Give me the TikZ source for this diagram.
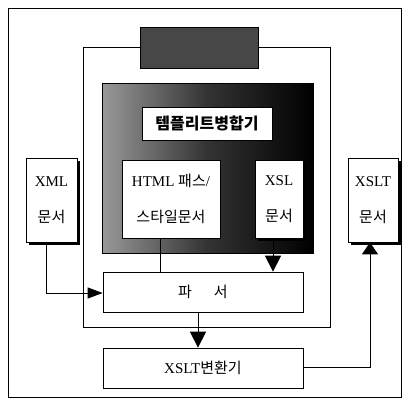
\documentclass[tikz,border=0pt]{standalone}
\usepackage{fontspec}
\setmainfont{Liberation Serif}
\newfontfamily\kr{Noto Sans CJK KR}
\usetikzlibrary{arrows.meta}
\begin{document}
\begin{tikzpicture}[x=1pt,y=-1pt,
  wbox/.style={draw=black, fill=white, line width=0.7pt, inner sep=0pt},
  conn/.style={draw=black, line width=0.8pt},
  tip/.style={-{Triangle[length=15pt,width=11pt]}},
  bigtip/.style={-{Triangle[length=16pt,width=16pt]}},
  frame/.style={draw=black, line width=0.6pt},
  twol/.style={align=center, font=\fontsize{15}{36}\selectfont}]
\useasboundingbox (0,0) rectangle (403,405);
% outer frame
\draw[frame] (8,8) rectangle (401,397);
% middle frame
\draw[frame] (83,47) rectangle (330,327);
% top dark box
\node[fill=black!72, draw=black, minimum width=118pt, minimum height=41pt, inner sep=0pt] (eng) at (199,47.5) {};
% inner template panel
\shade[left color=black!40, right color=black, middle color=black!80, shading angle=90] (102,83) rectangle (313,253);
\node[draw=black, line width=0.6pt, minimum width=211pt, minimum height=170pt, inner sep=0pt] (panel) at (207.5,168) {};
% template merger
\node[wbox, minimum width=130pt, minimum height=33pt, font=\kr\bfseries\fontsize{16}{18}\selectfont] (tm) at (207,123.5) {템플리트병합기};
% HTML style doc
\node[wbox, twol, minimum width=98pt, minimum height=78pt] (html) at (171,199)
  {HTML {\kr 패스}/\\{\kr 스타일문서}};
% XSL doc
\fill[black] (258,163) rectangle (306,241);
\node[wbox, twol, minimum width=48pt, minimum height=78pt] (xsl) at (279,199)
  {XSL\\{\kr 문서}};
% XML doc
\fill[black] (29,161) rectangle (80,245);
\node[wbox, twol, minimum width=51pt, minimum height=84pt] (xml) at (51.5,200)
  {XML\\{\kr 문서}};
% XSLT doc
\fill[black] (351,161) rectangle (401,245);
\node[wbox, twol, minimum width=50pt, minimum height=84pt] (xslt) at (373,200)
  {XSLT\\{\kr 문서}};
% parser
\node[wbox, minimum width=200pt, minimum height=40pt, font=\kr\fontsize{15}{18}\selectfont] (parser) at (203,292)
  {파\hspace{22pt}서};
% XSLT transformer
\node[wbox, minimum width=200pt, minimum height=40pt, font=\fontsize{15}{18}\selectfont] (trans) at (203,368)
  {XSLT{\kr 변환기}};
% connectors
\coordinate (c1) at (46,293);
\draw[conn, tip] (xml.south -| c1) -- (c1) -- (parser.west |- c1);
\coordinate (c2) at (160,0);
\draw[conn] (html.south -| c2) -- (parser.north -| c2);
\coordinate (c3) at (273,0);
\draw[conn, bigtip] (xsl.south -| c3) -- (parser.north -| c3);
\coordinate (c4) at (198,0);
\draw[conn, bigtip] (parser.south -| c4) -- (trans.north -| c4);
\coordinate (c5) at (370,367);
\draw[conn, {Triangle[length=12pt,width=16pt]}-] (xslt.south -| c5) -- (c5) -- (trans.east |- c5);
\end{tikzpicture}
\end{document}
